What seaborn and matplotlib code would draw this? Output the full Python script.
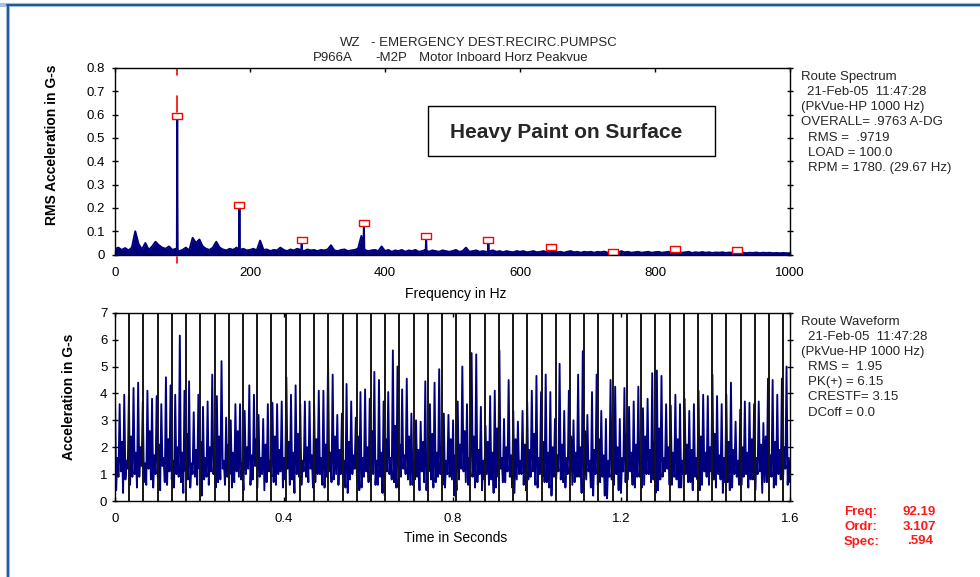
import numpy as np
import pandas as pd
import matplotlib
matplotlib.use("Agg")
import matplotlib.pyplot as plt
from matplotlib.lines import Line2D
from matplotlib.patches import Rectangle
import seaborn as sns

sns.set_theme(style="white")
plt.rcParams["font.family"] = ["Liberation Sans", "DejaVu Sans"]

NAVY = "#00007f"

# ---------------- Route spectrum (PeakVue, 0-1000 Hz) ----------------
floor_step_hz = 5.0
floor_amp = [
    0.025, 0.03, 0.02, 0.028, 0.018, 0.03, 0.1, 0.045, 0.022, 0.05,
    0.02, 0.035, 0.055, 0.04, 0.03, 0.025, 0.035, 0.02, 0.025, 0.015,
    0.02, 0.03, 0.018, 0.072, 0.05, 0.065, 0.035, 0.025, 0.02, 0.03,
    0.055, 0.03, 0.022, 0.018, 0.025, 0.02, 0.03, 0.02, 0.025, 0.018,
    0.02, 0.025, 0.018, 0.06, 0.02, 0.022, 0.015, 0.02, 0.018, 0.03,
    0.02, 0.015, 0.022, 0.018, 0.025, 0.02, 0.015, 0.022, 0.018, 0.02,
    0.015, 0.02, 0.018, 0.022, 0.04, 0.018, 0.015, 0.02, 0.022, 0.015,
    0.018, 0.02, 0.025, 0.08, 0.02, 0.015, 0.018, 0.02, 0.015, 0.035,
    0.015, 0.02, 0.012, 0.018, 0.015, 0.02, 0.012, 0.018, 0.015, 0.02,
    0.012, 0.015, 0.02, 0.012, 0.018, 0.015, 0.012, 0.018, 0.015, 0.012,
    0.015, 0.02, 0.012, 0.015, 0.03, 0.012, 0.015, 0.018, 0.012, 0.015,
    0.012, 0.015, 0.018, 0.012, 0.015, 0.01, 0.015, 0.012, 0.01, 0.015,
    0.012, 0.015, 0.01, 0.012, 0.015, 0.01, 0.012, 0.015, 0.01, 0.012,
    0.015, 0.01, 0.012, 0.008, 0.012, 0.015, 0.01, 0.012, 0.008, 0.012,
    0.01, 0.012, 0.008, 0.012, 0.01, 0.013, 0.008, 0.01, 0.012, 0.008,
    0.015, 0.01, 0.012, 0.008, 0.01, 0.012, 0.008, 0.01, 0.012, 0.008,
    0.01, 0.012, 0.008, 0.01, 0.012, 0.008, 0.01, 0.012, 0.008, 0.01,
    0.012, 0.007, 0.01, 0.008, 0.011, 0.008, 0.01, 0.007, 0.009, 0.008,
    0.01, 0.007, 0.009, 0.008, 0.01, 0.007, 0.009, 0.006, 0.008, 0.007,
    0.009, 0.006, 0.008, 0.007, 0.008, 0.006, 0.007, 0.006, 0.007, 0.006,
    0.006,
]
# Harmonics of the 92.19 Hz defect frequency, marked with red boxes
order_freq = [92.19, 184.38, 276.57, 368.76, 460.95, 553.14, 645.33, 737.52, 829.71, 921.90]
order_amp = [0.594, 0.212, 0.062, 0.135, 0.080, 0.062, 0.032, 0.013, 0.024, 0.018]
cursor_hz = 92.19

spec_xticks = [0, 200, 400, 600, 800, 1000]
spec_yticks = [0, 0.1, 0.2, 0.3, 0.4, 0.5, 0.6, 0.7, 0.8]
spec_ylabels = ["0", "0.1", "0.2", "0.3", "0.4", "0.5", "0.6", "0.7", "0.8"]

# ---------------- Route waveform (G-s vs seconds) ----------------
wave_span_s = 1.6
run_speed_hz = 29.67
wave_peaks = [
    3.9, 3.6, 3.95, 3.95, 4.2, 4.4, 3.7, 4.1, 3.8, 3.9, 3.6, 4.6,
    4.3, 3.95, 6.15, 4.1, 4.45, 3.3, 3.95, 3.5, 3.7, 4.7, 3.9, 5.2,
    3.1, 3.0, 3.6, 3.6, 3.35, 4.3, 3.95, 3.2, 3.05, 3.6, 3.65, 3.6,
    3.7, 4.6, 3.95, 4.3, 3.6, 3.7, 3.7, 3.6, 4.1, 4.1, 5.3, 4.7,
    3.2, 3.25, 4.35, 3.7, 3.1, 4.05, 4.15, 3.8, 4.8, 4.5, 3.7, 4.05,
    5.6, 5.0, 4.15, 4.55, 3.25, 3.0, 2.95, 4.45, 3.6, 4.4, 4.9, 3.25,
    3.2, 3.0, 3.7, 5.0, 3.6, 5.5, 5.45, 3.5, 2.8, 3.9, 4.1, 5.6,
    3.05, 4.5, 3.35, 2.95, 3.35, 3.7, 4.1, 4.65, 4.05, 4.7, 4.05, 3.05,
    5.1, 3.35, 4.1, 3.0, 4.7, 5.57, 3.2, 4.05, 4.7, 3.35, 3.05, 4.5,
    4.25, 3.05, 4.2, 3.5, 3.7, 4.25, 3.45, 3.8, 4.75, 4.85, 4.65, 3.6,
    3.55, 3.95, 3.6, 3.8, 3.35, 3.6, 4.1, 3.95, 3.9, 4.7, 3.9, 3.6,
    3.95, 4.4, 2.95, 3.4, 3.7, 3.65, 3.6, 3.7, 2.9, 4.55, 4.5, 3.95,
    4.55, 5.0,
]
wave_lows = [
    0.4, 1.1, 0.8, 0.6, 1.0, 0.9, 0.7, 1.2, 0.5, 0.9, 1.3, 0.6,
    0.8, 1.0, 0.7, 1.1, 0.5, 0.9, 1.2, 0.8, 0.6, 1.0, 0.7, 1.2,
    0.9, 0.5, 1.1, 0.8, 1.0, 0.6, 1.3, 0.9, 0.4, 1.1, 0.7, 1.0,
    0.5, 1.2, 0.8, 1.0, 0.6, 0.9, 1.2, 0.7, 1.0, 0.5, 1.1, 0.8,
    0.6, 0.9, 0.3, 1.0, 0.7, 0.5, 1.1, 0.8, 0.6, 0.9, 0.2, 1.0,
    0.7, 0.5, 1.2, 0.8, 0.6, 0.9, 1.1, 0.4, 0.8, 0.7, 1.0, 0.5,
    0.9, 0.2, 0.8, 1.1, 0.6, 0.9, 0.7, 0.4, 1.0, 0.8, 0.5, 1.2,
    0.7, 0.9, 0.3, 1.0, 0.6, 0.8, 1.1, 0.5, 0.9, 0.7, 0.2, 0.8,
    0.8, 0.5, 1.0, 0.7, 0.9, 0.4, 1.1, 0.2, 0.6, 0.9, 0.1, 0.8,
    1.0, 0.3, 0.7, 1.1, 0.5, 0.9, 0.6, 1.0, 0.8, 0.4, 0.9, 1.2,
    0.6, 0.8, 0.5, 1.0, 0.7, 0.9, 0.4, 1.1, 0.6, 0.8, 1.0, 0.3,
    0.7, 0.5, 0.9, 0.6, 1.0, 0.8, 0.4, 1.1, 0.7, 0.9, 0.5, 1.0,
    0.8, 0.6,
]
wave_mids = [
    1.6, 2.2, 1.5, 2.4, 1.8, 2.0, 1.4, 2.6, 1.7, 2.1, 1.6, 2.3,
    1.5, 2.0, 1.8, 2.5, 1.4, 1.9, 2.2, 1.6, 2.0, 1.7, 2.4, 1.5,
    2.1, 1.8, 2.6, 1.4, 2.0, 1.7, 2.3, 1.6, 2.1, 1.5, 2.4, 1.9,
    1.6, 2.2, 1.8, 2.5, 1.5, 2.0, 1.7, 2.3, 1.6, 2.1, 1.8, 2.4,
    1.9, 1.5, 2.2, 1.7, 2.4, 1.6, 2.0, 2.6, 1.5, 1.8, 2.3, 1.6,
    2.8, 2.1, 1.7, 2.4, 1.5, 1.9, 2.2, 1.6, 2.5, 1.8, 2.0, 1.5,
    2.3, 1.7, 2.1, 2.6, 1.6, 2.4, 1.9, 1.5, 2.2, 1.8, 2.7, 1.6,
    2.0, 1.7, 2.3, 1.5, 2.1, 1.9, 2.5, 1.6, 2.2, 1.8, 2.0, 1.7,
    2.1, 1.6, 2.4, 1.8, 2.0, 2.6, 1.5, 1.9, 2.3, 1.7, 1.5, 2.2,
    2.0, 1.6, 2.5, 1.8, 2.1, 1.7, 2.4, 1.9, 2.2, 2.7, 1.6, 2.0,
    1.8, 2.3, 1.5, 2.1, 1.9, 1.6, 2.4, 1.8, 2.0, 2.5, 1.7, 1.6,
    2.2, 1.9, 1.5, 2.0, 1.8, 2.3, 1.6, 2.1, 2.4, 1.7, 2.2, 1.9,
    2.0, 1.6,
]
wave_lows2 = [
    0.9, 0.3, 1.2, 0.9, 0.5, 1.3, 0.6, 0.8, 1.0, 0.4, 0.7, 1.1,
    0.5, 0.9, 0.3, 0.8, 1.0, 0.6, 0.2, 0.9, 1.1, 0.5, 0.8, 0.6,
    1.0, 0.7, 0.9, 0.4, 1.2, 0.8, 0.5, 1.0, 0.7, 0.9, 0.6, 1.1,
    0.8, 0.6, 0.3, 0.9, 1.1, 0.7, 0.5, 1.0, 0.6, 0.9, 0.7, 1.0,
    1.0, 0.5, 0.8, 1.2, 0.4, 0.9, 0.7, 1.0, 0.6, 0.3, 1.1, 0.8,
    0.5, 0.9, 1.0, 0.6, 0.8, 0.4, 0.7, 1.1, 0.5, 0.9, 0.6, 1.0,
    0.8, 0.4, 1.2, 0.7, 0.9, 0.5, 1.0, 0.8, 0.6, 0.3, 0.9, 0.7,
    1.1, 0.5, 0.8, 1.0, 0.4, 0.9, 0.6, 1.0, 0.7, 0.5, 0.9, 1.1,
    0.7, 1.0, 0.6, 0.9, 0.3, 0.8, 0.5, 1.0, 0.7, 0.2, 0.9, 0.6,
    0.4, 1.1, 0.8, 0.6, 0.9, 0.5, 1.0, 0.7, 0.3, 0.8, 1.1, 0.6,
    0.9, 0.5, 1.0, 0.7, 0.4, 0.8, 0.6, 0.9, 1.1, 0.5, 0.8, 0.7,
    0.4, 1.0, 0.6, 0.9, 0.5, 0.8, 1.0, 0.3, 0.7, 0.9, 0.6, 0.8,
    1.2, 0.7,
]
wave_xticks = [0, 0.4, 0.8, 1.2, 1.6]
wave_xlabels = ["0", "0.4", "0.8", "1.2", "1.6"]
wave_yticks = [0, 1, 2, 3, 4, 5, 6, 7]

# ---------------- figure layout (pixel based) ----------------
W, H = 980, 577
fig = plt.figure(figsize=(W / 100, H / 100), dpi=100)
fig.patch.set_facecolor("white")


def box(left, top, right, bottom):
    return [left / W, 1 - bottom / H, (right - left) / W, (bottom - top) / H]


def px(x, y):
    return x / W, 1 - y / H


ax1 = fig.add_axes(box(115, 68, 790, 254.6))
ax2 = fig.add_axes(box(115, 312.7, 790, 501))

# ---- spectrum trace: floor plus narrow harmonic lines ----
floor_hz = np.arange(len(floor_amp)) * floor_step_hz
f_all = list(floor_hz)
a_all = list(floor_amp)
for f, a in zip(order_freq, order_amp):
    base = np.interp([f - 0.6, f + 0.6], floor_hz, floor_amp)
    f_all += [f - 0.6, f, f + 0.6]
    a_all += [base[0], a, base[1]]
spec = pd.DataFrame({"Hz": f_all, "G": a_all}).sort_values("Hz")
ax1.fill_between(spec["Hz"], 0, spec["G"], color=NAVY, lw=0, zorder=2)
sns.lineplot(data=spec, x="Hz", y="G", ax=ax1, color=NAVY, lw=1.4,
             estimator=None, sort=False, zorder=3)

box_marker = [(-1.3, -0.9), (1.3, -0.9), (1.3, 0.9), (-1.3, 0.9), (-1.3, -0.9)]
ax1.plot(order_freq, order_amp, ls="none", marker=box_marker, ms=7,
         mfc="white", mec="red", mew=1.0, zorder=5)

# cursor at the selected peak
ax1.axvline(cursor_hz, ymin=0.962, ymax=1.0, color="red", lw=1.2, zorder=4)
ax1.axvline(cursor_hz, ymin=0.766, ymax=0.85, color="red", lw=1.2, zorder=4)
ax1.axvline(cursor_hz, ymin=-0.045, ymax=-0.012, color="red", lw=1.2,
            zorder=4, clip_on=False)

ax1.set_xlim(0, 1000)
ax1.set_ylim(0, 0.8)
ax1.set_xticks(spec_xticks)
ax1.set_xticklabels([str(v) for v in spec_xticks])
ax1.set_yticks(spec_yticks)
ax1.set_yticklabels(spec_ylabels)

# ---- waveform trace ----
accel = np.column_stack([wave_peaks, wave_lows, wave_mids, wave_lows2]).ravel()
t = np.linspace(0, wave_span_s, accel.size)
wave = pd.DataFrame({"s": t, "G": accel})
sns.lineplot(data=wave, x="s", y="G", ax=ax2, color=NAVY, lw=1.35,
             estimator=None, sort=False, zorder=3)

# one marker line per shaft revolution
k = 1
while k / run_speed_hz < wave_span_s:
    ax2.axvline(k / run_speed_hz, color="#151515", lw=1.4, zorder=4)
    k += 1

ax2.set_xlim(0, wave_span_s)
ax2.set_ylim(0, 7)
ax2.set_xticks(wave_xticks)
ax2.set_xticklabels(wave_xlabels)
ax2.set_yticks(wave_yticks)
ax2.set_yticklabels([str(v) for v in wave_yticks])

for ax, ypad in ((ax1, 5), (ax2, 3)):
    ax.set_facecolor("white")
    ax.grid(False)
    ax.set_xlabel("")
    ax.set_ylabel("")
    for s in ax.spines.values():
        s.set_visible(True)
        s.set_color("black")
        s.set_linewidth(1.0)
        s.set_zorder(6)
    ax.tick_params(axis="y", direction="inout", length=5, width=1,
                   left=True, right=True, labelleft=True, labelright=False,
                   labelsize=9.5, pad=ypad, colors="black")
    ax.tick_params(axis="x", direction="in", length=3, width=1,
                   top=True, bottom=True, labelsize=9.5, pad=9,
                   colors="black")

# ---- axis titles ----
fig.text(*px(456, 294), "Frequency in Hz", ha="center", va="center",
         fontsize=10, color="black")
fig.text(*px(456, 538), "Time in Seconds", ha="center", va="center",
         fontsize=10, color="black")
fig.text(*px(52.5, 145), "RMS Acceleration in G-s", ha="center", va="center",
         rotation=90, fontsize=10, fontweight="bold", color="black")
fig.text(*px(69, 397), "Acceleration in G-s", ha="center", va="center",
         rotation=90, fontsize=10, fontweight="bold", color="black")

# ---- header ----
head_fs = 9.5
fig.text(*px(340, 42.7), "WZ", ha="left", va="center", fontsize=head_fs)
fig.text(*px(371, 42.7), "- EMERGENCY DEST.RECIRC.PUMPSC", ha="left",
         va="center", fontsize=head_fs)
fig.text(*px(313, 58.3), "P966A", ha="left", va="center", fontsize=head_fs)
fig.text(*px(375, 58.3), "-M2P", ha="left", va="center", fontsize=head_fs)
fig.text(*px(419, 58.3), "Motor Inboard Horz Peakvue", ha="left",
         va="center", fontsize=head_fs)

# ---- note box ----
fig.add_artist(Rectangle(px(428, 156), 287 / W, 50 / H, transform=fig.transFigure,
                         fill=True, facecolor="white", edgecolor="black", lw=1.0,
                         zorder=8))
fig.text(*px(566, 132.5), "Heavy Paint on Surface", ha="center", va="center",
         fontsize=15, fontweight="bold", zorder=9)

# ---- side panels ----
spec_info = [
    (801, 76.7, "Route Spectrum"),
    (806.7, 91.7, "21-Feb-05  11:47:28"),
    (801, 106.7, "(PkVue-HP 1000 Hz)"),
    (801, 121.7, "OVERALL= .9763 A-DG"),
    (808, 138.3, "RMS =  .9719"),
    (808, 153.3, "LOAD = 100.0"),
    (808, 168.3, "RPM = 1780. (29.67 Hz)"),
]
wave_info = [
    (800.7, 321.7, "Route Waveform"),
    (808, 336.7, "21-Feb-05  11:47:28"),
    (800.7, 351.7, "(PkVue-HP 1000 Hz)"),
    (808, 367.3, "RMS =  1.95"),
    (808, 381.7, "PK(+) = 6.15"),
    (808, 397.3, "CRESTF= 3.15"),
    (808, 412.7, "DCoff = 0.0"),
]
for x, y, s in spec_info + wave_info:
    fig.text(*px(x, y), s, ha="left", va="center", fontsize=9.5)

cursor_info = [
    (844, 936, 511.7, "Freq:", "92.19"),
    (844, 936, 526.5, "Ordr:", "3.107"),
    (844, 933, 541.5, "Spec:", ".594"),
]
for xl, xr, y, name, val in cursor_info:
    fig.text(*px(xl, y), name, ha="left", va="center", fontsize=9.5,
             fontweight="bold", color="#ff1a1a")
    fig.text(*px(xr, y), val, ha="right", va="center", fontsize=9.5,
             fontweight="bold", color="#ff1a1a")

# ---- page frame ----
frame_c = "#1f5a96"
fig.add_artist(Line2D([px(0, 5)[0], 1.0], [px(0, 5)[1]] * 2, color="#a9c1dd",
                      lw=3.0, transform=fig.transFigure))
fig.add_artist(Line2D([px(7.5, 0)[0]] * 2, [0.0, px(0, 5)[1]], color="#a9c1dd",
                      lw=3.0, transform=fig.transFigure))
fig.add_artist(Line2D([px(7, 5.3)[0], 1.0], [px(0, 5.3)[1]] * 2, color=frame_c,
                      lw=1.5, transform=fig.transFigure))
fig.add_artist(Line2D([px(7.8, 0)[0]] * 2, [0.0, px(0, 5.3)[1]], color=frame_c,
                      lw=1.5, transform=fig.transFigure))

fig.savefig("out.png", dpi=100, facecolor="white")
